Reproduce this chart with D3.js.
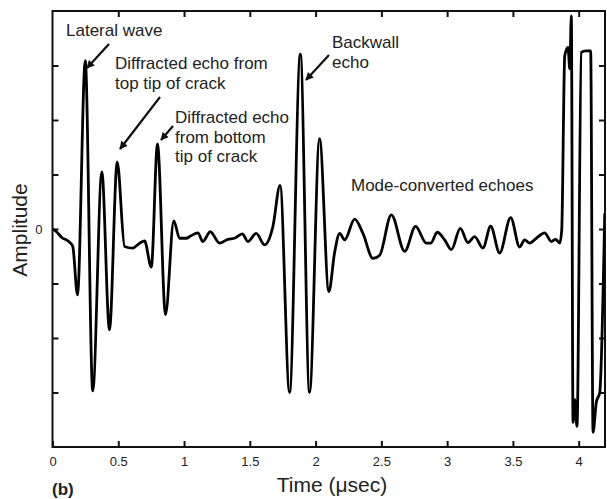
<!DOCTYPE html>
<html>
<head>
<meta charset="utf-8">
<script src="https://cdn.jsdelivr.net/npm/d3@7"></script>
<style>
  html, body { margin: 0; padding: 0; background: #fff; }
  svg { display: block; }
  text { font-family: "Liberation Sans", Arial, Helvetica, sans-serif; fill: #222; }
</style>
</head>
<body>
<svg id="chart" width="607" height="499"></svg>
<script>
// ---- data ----
const timeUs = [0, 0.030, 0.068, 0.129, 0.154, 0.190, 0.249, 0.306, 0.375, 0.433, 0.492, 0.548, 0.608, 0.662, 0.700,
  0.751, 0.798, 0.859, 0.922, 0.966, 1.017, 1.049, 1.105, 1.143, 1.199, 1.270, 1.333, 1.384, 1.443, 1.485,
  1.549, 1.612, 1.675, 1.730, 1.802, 1.884, 1.954, 2.030, 2.101, 2.144, 2.183, 2.221, 2.297, 2.360, 2.436,
  2.487, 2.576, 2.677, 2.760, 2.842, 2.875, 2.925, 2.981, 3.032, 3.100, 3.158, 3.209, 3.272, 3.331, 3.399,
  3.483, 3.551, 3.589, 3.627, 3.678, 3.741, 3.792, 3.825, 3.856, 3.871, 3.894, 3.919, 3.932, 3.944, 3.957,
  3.970, 3.987, 4.020, 4.053, 4.091, 4.109, 4.134, 4.160, 4.198];
const amplitude = [0, -0.05, -0.15, -0.24, -0.32, -1.21, 3.09, -2.97, 1.05, -1.85, 1.23, -0.32, -0.35, -0.26, -0.22,
  -0.70, 1.56, -1.57, 0.15, -0.17, -0.17, -0.13, -0.07, -0.23, -0.05, -0.26, -0.19, -0.17, -0.09, -0.23,
  -0.08, -0.29, 0.04, 0.80, -3.00, 3.21, -3.00, 1.66, -1.15, -0.44, -0.08, -0.20, 0.18, -0.08, -0.54,
  -0.48, 0.26, -0.41, 0.05, -0.26, -0.26, -0.06, -0.20, -0.38, 0.01, -0.25, -0.14, -0.35, 0.05, -0.44,
  0.21, -0.33, -0.20, -0.26, -0.17, -0.07, -0.23, -0.19, -0.26, -0.02, 3.18, 3.33, 2.94, 3.91, -3.55,
  -3.13, -3.62, 3.24, 3.27, 3.27, -3.73, -3.18, -3.00, 0.29];
const xTicks = [0, 0.5, 1, 1.5, 2, 2.5, 3, 3.5, 4];
const xTickLabels = ["0", "0.5", "1", "1.5", "2", "2.5", "3", "3.5", "4"];
const yTicks = [-3, -2, -1, 0, 1, 2, 3];
const yTickLabels = ["", "", "", "0", "", "", ""];
const xDomain = [0, 4.2];
const yDomain = [-4, 4];

// ---- layout ----
const svg = d3.select("#chart");
const L = 52.5, R = 605, T = 11, B = 447;
const x = d3.scaleLinear().domain(xDomain).range([L, R]);
const y = d3.scaleLinear().domain(yDomain).range([B, T]);

const defs = svg.append("defs");
defs.append("clipPath").attr("id", "clip")
  .append("rect").attr("x", L).attr("y", T - 6).attr("width", R - L).attr("height", B - T + 12);
defs.append("marker").attr("id", "arrow")
  .attr("viewBox", "0 0 10 10").attr("refX", 9).attr("refY", 5)
  .attr("markerWidth", 11).attr("markerHeight", 8).attr("markerUnits", "userSpaceOnUse")
  .attr("orient", "auto")
  .append("path").attr("d", "M0,0 L10,5 L0,10 Z").attr("fill", "#111");

// ticks (inward on all four sides)
const tickLen = 6;
const xb = d3.axisBottom(x).tickValues(xTicks).tickSize(-tickLen).tickPadding(10)
  .tickFormat((d, i) => xTickLabels[i]);
const gxb = svg.append("g").attr("transform", `translate(0,${B})`).call(xb);
const xt = d3.axisTop(x).tickValues(xTicks.slice(1)).tickSize(-tickLen).tickFormat("");
const gxt = svg.append("g").attr("transform", `translate(0,${T})`).call(xt);
const yl = d3.axisLeft(y).tickValues(yTicks).tickSize(-tickLen).tickPadding(10)
  .tickFormat((d, i) => yTickLabels[i]);
const gyl = svg.append("g").attr("transform", `translate(${L},0)`).call(yl);
const yr = d3.axisRight(y).tickValues(yTicks).tickSize(-tickLen).tickFormat("");
const gyr = svg.append("g").attr("transform", `translate(${R},0)`).call(yr);
[gxb, gxt, gyl, gyr].forEach(g => {
  g.select(".domain").remove();
  g.selectAll(".tick line").attr("stroke", "#111").attr("stroke-width", 2);
  g.selectAll(".tick text").attr("font-size", 13).attr("fill", "#333")
    .attr("font-family", "Liberation Sans, Arial, sans-serif");
});

// frame
svg.append("rect").attr("x", L).attr("y", T).attr("width", R - L).attr("height", B - T)
  .attr("fill", "none").attr("stroke", "#111").attr("stroke-width", 2);

// waveform
const pts = timeUs.map((t, i) => [t, amplitude[i]]);
svg.append("path").datum(pts)
  .attr("clip-path", "url(#clip)")
  .attr("fill", "none").attr("stroke", "#000").attr("stroke-width", 2.8)
  .attr("stroke-linejoin", "round")
  .attr("d", d3.line().x(d => x(d[0])).y(d => y(d[1])).curve(d3.curveMonotoneX));

// annotations
const fs = 17;
function label(lines, x0, y0, lh) {
  const t = svg.append("text").attr("font-size", fs).attr("fill", "#222");
  lines.forEach((s, i) => t.append("tspan").attr("x", x0).attr("y", y0 + i * lh).text(s));
}
label(["Lateral wave"], 66, 36, 20);
label(["Diffracted echo from", "top tip of crack"], 115, 69, 20);
label(["Diffracted echo", "from bottom", "tip of crack"], 175, 123, 19.5);
label(["Backwall", "echo"], 332, 48, 19.5);
label(["Mode-converted echoes"], 351, 191, 20);

function arrow(x1, y1, x2, y2) {
  svg.append("line").attr("x1", x1).attr("y1", y1).attr("x2", x2).attr("y2", y2)
    .attr("stroke", "#111").attr("stroke-width", 2.2).attr("marker-end", "url(#arrow)");
}
arrow(109, 44, 87, 68);
arrow(160, 97, 120, 149);
arrow(173, 126, 161, 140);
arrow(329, 55, 306, 80);

// axis titles
svg.append("text").attr("transform", `translate(27,230) rotate(-90)`)
  .attr("text-anchor", "middle").attr("font-size", 21).text("Amplitude");
svg.append("text").attr("x", 332).attr("y", 492).attr("text-anchor", "middle")
  .attr("font-size", 21).text("Time (\u03bcsec)");
svg.append("text").attr("x", 52).attr("y", 495).attr("font-size", 17)
  .attr("font-weight", "bold").text("(b)");
</script>
</body>
</html>
